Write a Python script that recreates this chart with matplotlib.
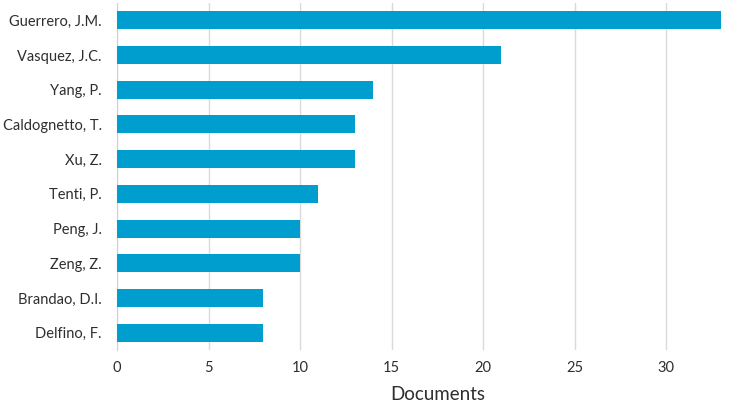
import matplotlib.pyplot as plt

authors = ['Guerrero, J.M.', 'Vasquez, J.C.', 'Yang, P.', 'Caldognetto, T.', 'Xu, Z.',
           'Tenti, P.', 'Peng, J.', 'Zeng, Z.', 'Brandao, D.I.', 'Delfino, F.']
documents = [33, 21, 14, 13, 13, 11, 10, 10, 8, 8]
xticks = [0, 5, 10, 15, 20, 25, 30]

plt.rcParams['font.family'] = ['Lato', 'DejaVu Sans']

fig = plt.figure(figsize=(7.38, 4.08), dpi=100)
ax = fig.add_axes([117 / 738, 1 - 350 / 408, (721 - 117) / 738, 347 / 408])

ax.barh(range(len(authors)), documents, height=0.52, color='#009ecf', zorder=3)
ax.set_ylim(len(authors) - 0.5, -0.5)
ax.set_xlim(0, 33)
ax.set_yticks(range(len(authors)))
ax.set_yticklabels(authors)
ax.set_xticks(xticks)
ax.grid(axis='x', color='#dadada', linewidth=1, zorder=0)
ax.tick_params(length=0, labelsize=10.5, colors='#2e2e2e')
ax.tick_params(axis='x', pad=8)
ax.tick_params(axis='y', pad=11)
for side in ['top', 'right', 'bottom']:
    ax.spines[side].set_visible(False)
ax.spines['left'].set_color('#c8d4e4')
ax.set_xlabel('Documents', fontsize=13.5, color='#2e2e2e', labelpad=8)
ax.xaxis.set_label_coords(0.531, -0.105)

fig.savefig('out.png', dpi=100)
